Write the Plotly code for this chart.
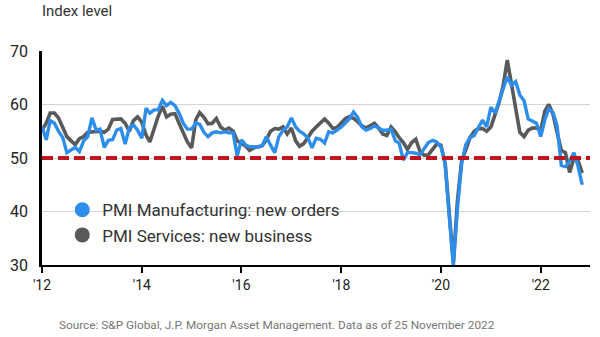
import pandas as pd
import plotly.graph_objects as go

# ---------------- data ----------------
START_MONTH = "2012-01-01"

manufacturing_new_orders = [
    55.9, 53.4, 57.0, 56.5, 55.0, 53.8, 51.0, 51.5, 52.0, 51.2, 53.2, 54.0,
    57.5, 55.2, 55.4, 52.0, 53.3, 53.4, 55.2, 55.5, 52.6, 55.6, 56.2, 55.2,
    53.7, 59.3, 58.4, 59.0, 59.0, 60.8, 59.8, 60.4, 59.8, 58.4, 56.5, 55.4,
    55.4, 56.5, 56.3, 54.8, 54.0, 54.7, 54.9, 54.7, 54.9, 54.7, 54.7, 50.4,
    53.4, 52.4, 52.1, 52.1, 52.0, 52.3, 54.0, 52.4, 51.0, 54.0, 55.2, 55.8,
    57.5, 55.8, 55.0, 54.5, 53.8, 51.9, 53.7, 53.5, 52.8, 54.9, 54.7, 55.2,
    55.8, 56.6, 57.3, 58.6, 57.6, 55.8, 55.2, 55.5, 56.0, 55.6, 55.2, 55.2,
    55.4, 53.2, 52.8, 49.6, 51.0, 51.0, 50.9, 50.6, 51.8, 52.9, 53.3, 53.0,
    52.1, 49.0, 39.5, 29.8, 40.5, 49.0, 52.5, 53.8, 54.2, 55.5, 57.1, 55.8,
    59.5, 58.4, 60.5, 63.1, 65.2, 63.6, 64.3, 61.8, 60.7, 57.3, 56.8, 56.5,
    54.0, 57.2, 59.2, 58.5, 56.0, 48.6, 48.4, 49.4, 51.0, 48.5, 45.0,
]

services_new_business = [
    55.2, 56.5, 58.4, 58.4, 57.5, 55.6, 54.0, 53.2, 52.5, 53.6, 54.0, 54.8,
    54.9, 54.9, 55.0, 54.8, 55.4, 57.2, 57.3, 57.3, 56.5, 55.0, 57.0, 57.7,
    56.7, 54.3, 53.0, 55.6, 57.8, 59.7, 57.7, 58.2, 58.3, 56.5, 54.8, 53.0,
    51.9, 57.2, 58.5, 57.6, 56.4, 56.5, 57.4, 55.8, 55.2, 55.6, 55.0, 53.2,
    52.8, 52.2, 51.4, 51.9, 52.1, 52.3, 53.4, 55.0, 55.5, 55.4, 55.8, 54.5,
    55.6, 53.2, 52.2, 52.7, 53.8, 55.0, 55.8, 56.6, 57.3, 56.5, 55.5, 55.7,
    56.5, 57.4, 57.7, 57.4, 56.8, 56.0, 55.6, 56.0, 56.5, 55.6, 54.5, 54.2,
    55.8, 54.9, 53.8, 52.9, 51.6, 52.9, 53.5, 51.2, 50.5, 50.6, 51.7, 52.6,
    52.4, 49.0, 40.0, 30.5, 42.0, 49.5, 51.5, 53.8, 55.0, 55.5, 55.5, 55.0,
    55.8, 58.2, 60.3, 63.5, 68.3, 63.8, 59.0, 54.8, 54.0, 55.2, 55.6, 55.6,
    55.2, 58.8, 60.0, 58.2, 54.8, 51.4, 51.0, 47.3, 50.0, 49.6, 47.2,
]

threshold = 50
x_tick_values = ["2012-01-01", "2014-01-01", "2016-01-01", "2018-01-01", "2020-01-01", "2022-01-01"]
x_tick_labels = ["'12", "'14", "'16", "'18", "'20", "'22"]
y_tick_values = [30, 40, 50, 60, 70]
series_names = ["PMI Manufacturing: new orders", "PMI Services: new business"]

months = pd.date_range(START_MONTH, periods=len(manufacturing_new_orders), freq="MS")

# ---------------- styling ----------------
BLUE = "#2C8EEA"
GRAY = "#58595B"
RED = "#C0141C"
FONT = "Roboto"

fig = go.Figure()

fig.add_trace(go.Scatter(
    x=months, y=services_new_business, mode="lines",
    line=dict(color=GRAY, width=3.6), showlegend=False, hoverinfo="skip",
))
fig.add_trace(go.Scatter(
    x=months, y=manufacturing_new_orders, mode="lines",
    line=dict(color=BLUE, width=3.4), showlegend=False, hoverinfo="skip",
))

# legend entries (circle markers)
for name, color, grp in [(series_names[0], BLUE, "a"), (series_names[1], GRAY, "b")]:
    fig.add_trace(go.Scatter(
        x=[None], y=[None], mode="markers", name=name, legendgroup=grp,
        marker=dict(color=color, size=15, symbol="circle"),
    ))

fig.add_shape(
    type="line", xref="paper", x0=0, x1=1, yref="y", y0=threshold, y1=threshold,
    line=dict(color=RED, width=4, dash="11px,5px"), layer="above",
)

fig.update_layout(
    width=600, height=337,
    margin=dict(l=40, r=10, t=51, b=72),
    paper_bgcolor="white", plot_bgcolor="white",
    font=dict(family=FONT, color="#222"),
    legend=dict(
        x=0.037, xanchor="left", y=0.34, yanchor="top",
        bgcolor="rgba(0,0,0,0)", font=dict(size=17, color="#333", family=FONT),
        tracegroupgap=4, traceorder="normal",
    ),
    xaxis=dict(
        type="date", range=["2012-01-01", "2022-12-28"],
        tickvals=x_tick_values, ticktext=x_tick_labels,
        ticks="outside", ticklen=6, tickwidth=2, tickcolor="black",
        showline=True, linecolor="black", linewidth=2,
        showgrid=False, zeroline=False,
        tickfont=dict(size=14, color="#222", family=FONT),
    ),
    yaxis=dict(
        range=[30, 70], tickvals=y_tick_values,
        showgrid=True, gridcolor="#D4D4D4", gridwidth=1,
        showline=True, linecolor="black", linewidth=2.5,
        ticks="", zeroline=False, ticklabelstandoff=8,
        tickfont=dict(size=16, color="#222", family=FONT),
    ),
    annotations=[
        dict(text="Index level", xref="paper", yref="paper", x=-0.004, y=1.185,
             xanchor="left", yanchor="middle", showarrow=False,
             font=dict(size=15, color="#333", family=FONT)),
        dict(text="Source: S&P Global, J.P. Morgan Asset Management. Data as of 25 November 2022",
             xref="paper", yref="paper", x=0.027, y=-0.28, xanchor="left", yanchor="middle",
             showarrow=False, font=dict(size=11.8, color="#777", family=FONT)),
    ],
)

fig.write_html("out.html")
